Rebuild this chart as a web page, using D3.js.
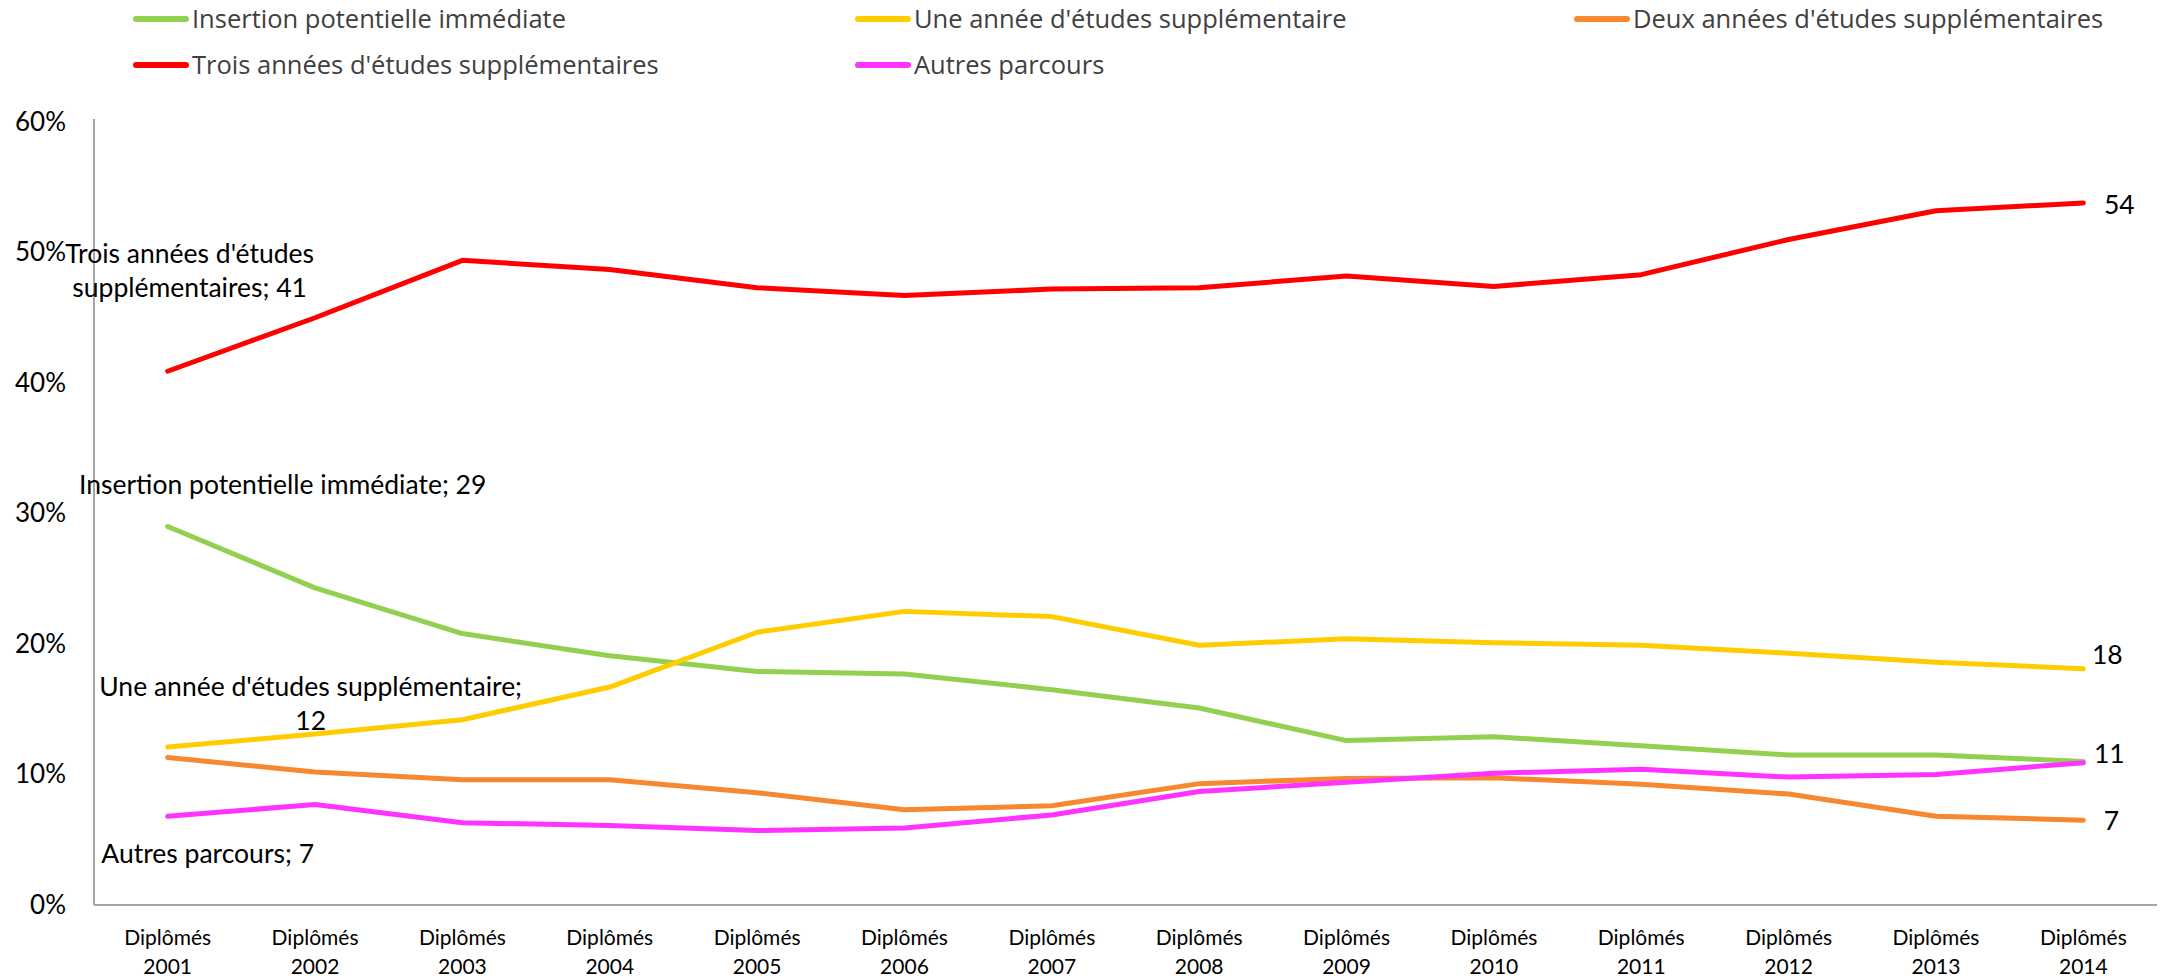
<!DOCTYPE html>
<html>
<head>
<meta charset="utf-8">
<script src="https://cdn.jsdelivr.net/npm/d3@7"></script>
<style>
  html, body { margin: 0; padding: 0; background: #fff; }
  svg { display: block; }
</style>
</head>
<body>
<svg id="chart" width="2164" height="979"></svg>
<script>
// ---- Data ----
const categories = ["2001","2002","2003","2004","2005","2006","2007","2008","2009","2010","2011","2012","2013","2014"];
const seriesNames = [
  "Insertion potentielle immédiate",
  "Une année d'études supplémentaire",
  "Deux années d'études supplémentaires",
  "Trois années d'études supplémentaires",
  "Autres parcours"
];
const insertion = [29.0, 24.3, 20.8, 19.1, 17.9, 17.7, 16.5, 15.1, 12.6, 12.9, 12.2, 11.5, 11.5, 11.0];
const uneAnnee  = [12.1, 13.1, 14.2, 16.7, 20.9, 22.5, 22.1, 19.9, 20.4, 20.1, 19.9, 19.3, 18.6, 18.1];
const deuxAnnees= [11.3, 10.2, 9.6, 9.6, 8.6, 7.3, 7.6, 9.3, 9.7, 9.75, 9.25, 8.5, 6.8, 6.5];
const troisAnnees=[40.9, 45.0, 49.4, 48.7, 47.3, 46.7, 47.2, 47.3, 48.2, 47.4, 48.3, 51.0, 53.2, 53.8];
const autres    = [6.8, 7.7, 6.3, 6.1, 5.7, 5.9, 6.9, 8.7, 9.4, 10.1, 10.4, 9.8, 10.0, 10.9];
const yTicks = [0, 10, 20, 30, 40, 50, 60];
const xLabelPrefix = "Diplômés";

const colors = ["#92D050", "#FFCC00", "#F7882F", "#FF0000", "#FF33FF"];
const values = [insertion, uneAnnee, deuxAnnees, troisAnnees, autres];

// ---- Layout ----
const svg = d3.select("#chart");
const plotLeft = 94, plotRight = 2157, plotTop = 122, plotBottom = 905;

const x = d3.scaleBand().domain(categories).range([plotLeft, plotRight]);
const cx = c => x(c) + x.bandwidth() / 2;
const y = d3.scaleLinear().domain([0, 60]).range([plotBottom, plotTop]);

const labelFont = "Lato, 'Open Sans', sans-serif";

// Y axis
const yAxis = d3.axisLeft(y).tickValues(yTicks).tickSize(0).tickPadding(28).tickFormat(d => d + "%");
const gy = svg.append("g").attr("transform", `translate(${plotLeft},0)`).call(yAxis);
gy.select(".domain").attr("stroke", "#A6A6A6").attr("stroke-width", 2).attr("d", `M0,${plotTop - 3}V${plotBottom}`);
gy.selectAll("text").attr("font-family", labelFont).attr("font-size", 26).attr("fill", "#000");

// X axis
const xAxis = d3.axisBottom(x).tickSize(0).tickFormat("");
const gx = svg.append("g").attr("transform", `translate(0,${plotBottom})`).call(xAxis);
gx.select(".domain").attr("stroke", "#A6A6A6").attr("stroke-width", 2).attr("d", `M${plotLeft},0H${plotRight}`);
gx.selectAll(".tick").each(function(d) {
  const t = d3.select(this).append("text")
    .attr("text-anchor", "middle")
    .attr("font-family", labelFont).attr("font-size", 21).attr("fill", "#000");
  t.append("tspan").attr("x", 0).attr("y", 40).text(xLabelPrefix);
  t.append("tspan").attr("x", 0).attr("y", 69).text(d);
});

// Lines
const line = d3.line().x((d, i) => cx(categories[i])).y(d => y(d));
values.forEach((vals, k) => {
  svg.append("path")
    .datum(vals)
    .attr("fill", "none")
    .attr("stroke", colors[k])
    .attr("stroke-width", 5)
    .attr("stroke-linejoin", "round")
    .attr("stroke-linecap", "round")
    .attr("d", line);
});

// Data labels
const dl = svg.append("g").attr("font-family", labelFont).attr("font-size", 26.5).attr("fill", "#000").attr("text-anchor", "middle");
const first = categories[0], last = categories[categories.length - 1];
const fmt = v => Math.round(v);

function addLabel(lines, px, py) {
  const t = dl.append("text");
  lines.forEach((s, i) => {
    t.append("tspan").attr("x", px).attr("y", py + i * 34).attr("dy", "0.35em").text(s);
  });
}
// first-point labels
addLabel([seriesNames[3].replace(" supplémentaires", ""), "supplémentaires; " + fmt(troisAnnees[0])], cx(first) + 22, y(troisAnnees[0]) - 118);
addLabel([seriesNames[0] + "; " + fmt(insertion[0])], cx(first) + 115, y(insertion[0]) - 42);
addLabel([seriesNames[1] + ";", "" + fmt(uneAnnee[0])], cx(first) + 143, y(uneAnnee[0]) - 60);
addLabel([seriesNames[4] + "; " + fmt(autres[0])], cx(first) + 40, y(autres[0]) + 37);
// last-point labels
addLabel(["" + fmt(troisAnnees[13])], cx(last) + 36, y(troisAnnees[13]) + 2);
addLabel(["" + fmt(uneAnnee[13])], cx(last) + 24, y(uneAnnee[13]) - 14);
addLabel(["" + fmt(insertion[13])], cx(last) + 26, y(insertion[13]) - 8);
addLabel(["" + fmt(deuxAnnees[13])], cx(last) + 28, y(deuxAnnees[13]) + 1);

// Legend
const legendOrder = [0, 1, 2, 3, 4];
const legCols = [134, 856, 1575];
const legRows = [19, 65];
const lg = svg.append("g");
legendOrder.forEach((k, i) => {
  const lx = legCols[i % 3], ly = legRows[Math.floor(i / 3)];
  lg.append("line").attr("x1", lx + 2).attr("x2", lx + 52).attr("y1", ly).attr("y2", ly)
    .attr("stroke", colors[k]).attr("stroke-width", 6).attr("stroke-linecap", "round");
  lg.append("text").attr("x", lx + 58).attr("y", ly).attr("dy", "0.35em")
    .attr("font-family", "'Open Sans', sans-serif").attr("font-size", 25.5).attr("fill", "#404040")
    .text(seriesNames[k]);
});
</script>
</body>
</html>
